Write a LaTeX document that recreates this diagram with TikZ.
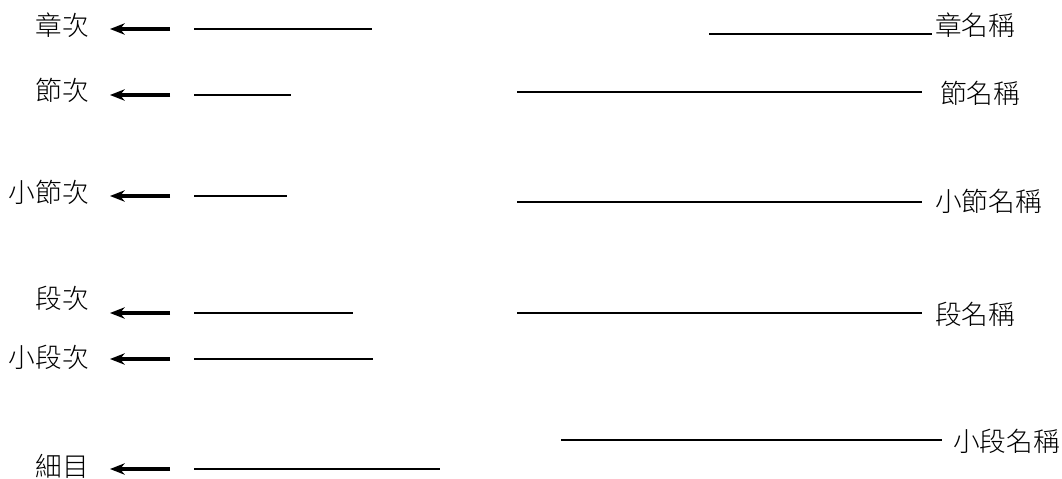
\documentclass[tikz,border=0pt]{standalone}
\usepackage{fontspec}
\newfontfamily\cjk{Noto Sans CJK TC}[UprightFont=* Light]
\usetikzlibrary{arrows.meta, positioning}

\begin{document}
\begin{tikzpicture}[
        x=0.75pt, y=-0.75pt,
        lbl/.style={inner sep=0pt, font=\cjk\fontsize{20}{24}\selectfont, anchor=east},
        rlbl/.style={lbl, anchor=west},
        numarrow/.style={line width=2.4pt, black, -{Stealth[length=11pt, width=8.5pt, inset=3.5pt]}},
        rule/.style={line width=0.8pt},
    ]
    \useasboundingbox (0,0) rectangle (1062,478);
    % numbering on the left
    \foreach \name/\txt/\ty/\ay/\lend in {
        zhang/章次/25/29/372,
        jie/節次/90/95/291,
        xjie/小節次/192/196/287,
        duan/段次/298/313/353,
        xduan/小段次/357/359/373,
        xi/細目/466/469/440} {
        \node[lbl] (\name) at (89,\ty) {\txt};
        \coordinate (\name-s) at (170,\ay);
        \coordinate (\name-t) at (110,\ay);
        \draw[numarrow] (\name-s) -- (\name-t);
        \coordinate (\name-a) at (194,\ay);
        \coordinate (\name-b) at (\lend,\ay);
        \draw[rule] (\name-a) -- (\name-b);
    }
    % titles on the right
    \foreach \name/\txt/\tx/\ty/\lx/\ly/\gap in {
        zhangname/章名稱/935/25/709/34/3,
        jiename/節名稱/940/93/517/92/18,
        xjiename/小節名稱/935/201/517/202/13,
        duanname/段名稱/935/314/517/313/13,
        xduanname/小段名稱/953/441/561/440/11} {
        \node[rlbl] (\name) at (\tx,\ty) {\txt};
        \coordinate (\name-a) at (\lx,\ly);
        \draw[rule, shorten >=\gap*0.75pt] (\name-a) -- (\name-a -| \name.west);
    }
\end{tikzpicture}
\end{document}
